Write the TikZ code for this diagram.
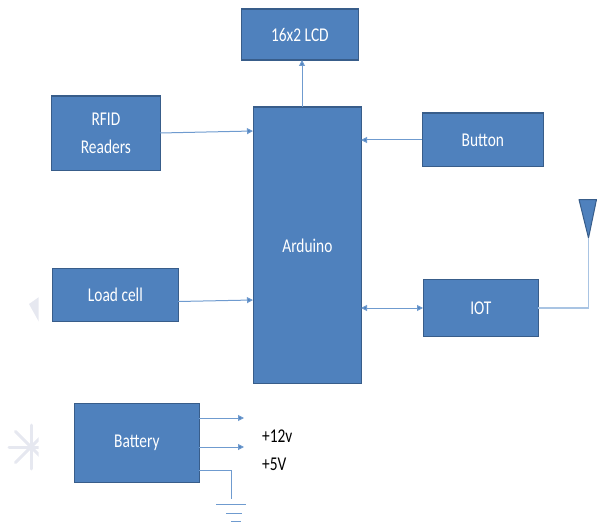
\documentclass[tikz,border=0pt]{standalone}
\usepackage{fontspec}
\setmainfont{Carlito}
\usetikzlibrary{arrows.meta}
\definecolor{boxfill}{HTML}{4F81BD}
\definecolor{boxline}{HTML}{385D8A}
\definecolor{wire}{HTML}{6F9BCF}
\definecolor{wirelight}{HTML}{A9C4E3}
\definecolor{ghost}{HTML}{E6E8F0}
\tikzset{
  x=1pt,y=-1pt,
  blk/.style={draw=boxline,line width=1.8pt,fill=boxfill,text=white,font=\fontsize{19.5}{23}\selectfont,align=center,inner sep=0pt,anchor=north west},
  wirel/.style={draw=wire,line width=1pt},
  arr/.style={wirel,-{Triangle[length=6pt,width=6pt,fill=boxfill]}},
  biarr/.style={wirel,{Triangle[length=6pt,width=6pt,fill=boxfill]}-{Triangle[length=6pt,width=6pt,fill=boxfill]}},
  lbl/.style={text=black,font=\fontsize{19.5}{23}\selectfont,anchor=west,inner sep=0pt},
  gnd/.style={draw=wire,line width=0.8pt},
  ghostl/.style={draw=ghost,line width=3pt,line cap=round}
}
\begin{document}
\begin{tikzpicture}
\useasboundingbox (0,0) rectangle (597,524);
% faint artefacts at the left edge
\begin{scope}
\clip (0,280) rectangle (38.5,480);
\fill[ghost] (29,304) -- (39,297) -- (39,322) -- cycle;
\foreach \a in {0,45,...,315}{\draw[ghostl] (31,447) -- ++(\a:22);}
\end{scope}
% blocks
\node[blk,minimum width=117pt,minimum height=51pt] (lcd) at (240.5,8.5) {\scalebox{.79}[1]{16x2 LCD}};
\node[blk,minimum width=109pt,minimum height=74pt] (rfid) at (50.5,95.5) {\scalebox{.79}[1]{RFID}\\[5pt]\scalebox{.79}[1]{Readers}};
\node[blk,minimum width=108pt,minimum height=276pt] (ard) at (252.5,106.5) {\scalebox{.79}[1]{Arduino}};
\node[blk,minimum width=121pt,minimum height=53pt] (btn) at (421.5,112.5) {\scalebox{.79}[1]{Button}};
\node[blk,minimum width=126pt,minimum height=53pt] (load) at (51.5,267.5) {\scalebox{.79}[1]{Load cell}};
\node[blk,minimum width=115pt,minimum height=57pt] (iot) at (422.5,278.5) {\scalebox{.79}[1]{IOT}};
\node[blk,minimum width=125pt,minimum height=79pt] (bat) at (73.5,402.5) {\scalebox{.79}[1]{Battery}};
% antenna
\fill[boxfill,draw=boxline,line width=1pt,line join=round] (579,199.5) -- (596.5,199.5) -- (588.5,238) -- cycle;
\coordinate (antTip) at (588.5,238);
% connection points
\coordinate (ardTop) at (302,107);
\coordinate (lcdBot) at (302,60);
\coordinate (ardRfid) at (253,131);
\coordinate (rfidE) at (160,133);
\coordinate (ardLoad) at (253,300);
\coordinate (loadE) at (178,301.5);
\coordinate (ardBtn) at (361,140);
\coordinate (ardIot) at (361,308);
\coordinate (iotW) at (423,308);
\coordinate (btnW) at (422,140);
\coordinate (iotE) at (538,308);
\coordinate (batA) at (199,418);
\coordinate (batB) at (199,447);
\coordinate (batC) at (199,470);
\coordinate (endA) at (244,418);
\coordinate (endB) at (244,447);
\coordinate (gndTop) at (231,499);
\coordinate (gndL1) at (216,504);
\coordinate (gndR1) at (246,504);
\coordinate (gndL2) at (226,513);
\coordinate (gndR2) at (242,513);
\coordinate (gndL3) at (231,521);
\coordinate (gndR3) at (241,521);
% connectors
\draw[arr] (ardTop) -- (lcdBot);
\draw[arr] (rfidE) -- (ardRfid);
\draw[arr] (loadE) -- (ardLoad);
\draw[arr] (btnW) -- (ardBtn);
\draw[biarr] (ardIot) -- (iotW);
\draw[draw=wirelight,line width=1.2pt] (iotE) -- (iotE -| antTip) -- (antTip);
\draw[arr] (batA) -- (endA);
\draw[arr] (batB) -- (endB);
\draw[gnd] (batC) -- (batC -| gndTop) -- (gndTop);
\draw[gnd] (gndL1) -- (gndR1);
\draw[gnd] (gndL2) -- (gndR2);
\draw[gnd] (gndL3) -- (gndR3);
% labels
\node[lbl] (v12) at (262,436) {\scalebox{.79}[1]{+12v}};
\node[lbl] (v5) at (262,464) {\scalebox{.79}[1]{+5V}};
\end{tikzpicture}
\end{document}
